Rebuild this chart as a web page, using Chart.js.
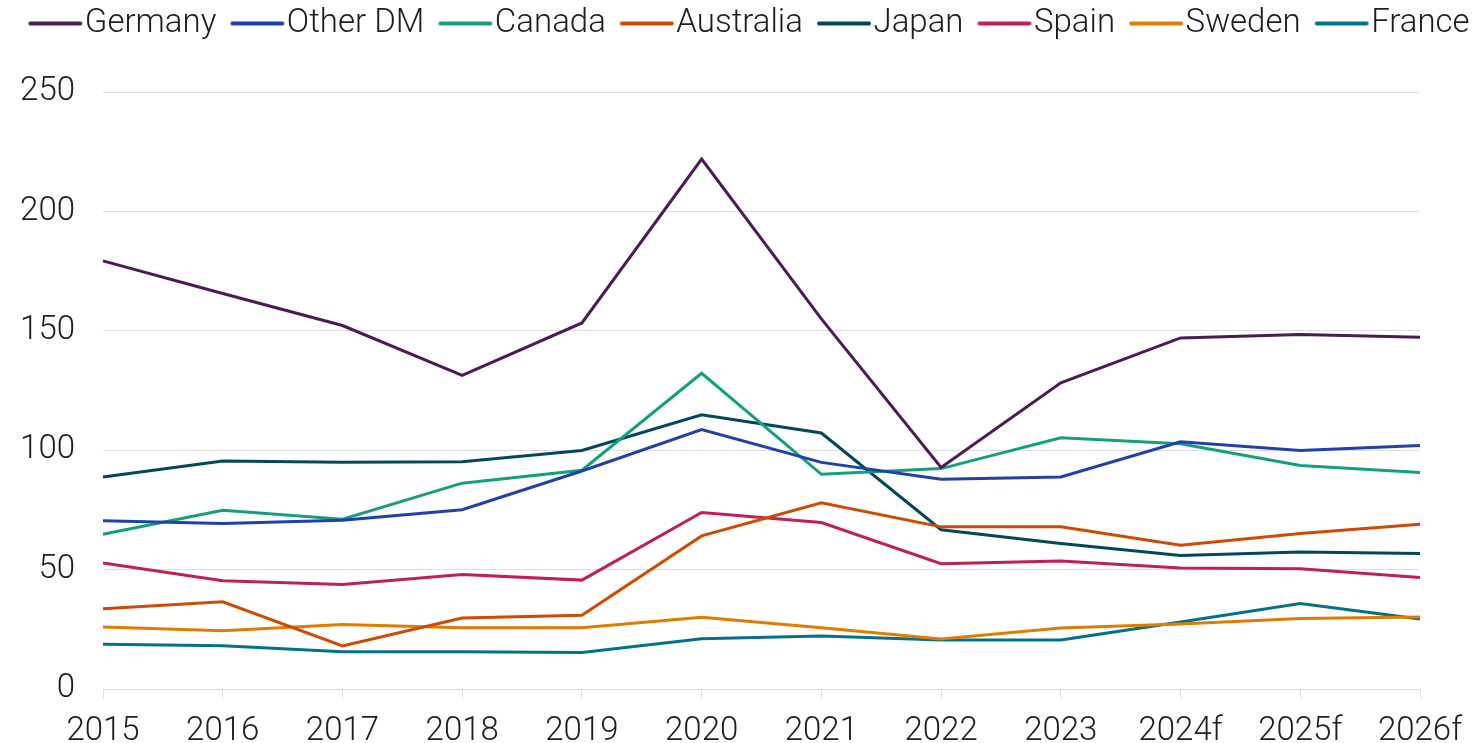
<!DOCTYPE html>
<html>
<head>
<meta charset="utf-8">
<script src="https://cdn.jsdelivr.net/npm/chart.js@4/dist/chart.umd.min.js"></script>
<style>
  html, body { margin: 0; padding: 0; background: #fff; }
  #wrap { width: 1476px; height: 743px; position: relative; }
</style>
</head>
<body>
<div id="wrap"><canvas id="chart"></canvas></div>
<script>
const years = ['2015', '2016', '2017', '2018', '2019', '2020', '2021', '2022', '2023', '2024f', '2025f', '2026f'];

const germany   = [179.3, 165.6, 152.2, 131.3, 153.3, 221.9, 155.0, 92.8, 128.2, 147.0, 148.4, 147.3];
const otherDM   = [70.5, 69.3, 70.7, 75.1, 91.3, 108.6, 94.9, 87.8, 88.8, 103.5, 99.9, 102.0];
const canada    = [64.8, 74.8, 71.1, 86.2, 91.6, 132.2, 89.9, 92.3, 105.2, 102.7, 93.6, 90.7];
const australia = [33.6, 36.5, 18.0, 29.7, 30.9, 64.1, 78.0, 67.9, 67.9, 60.2, 65.1, 69.0];
const japan     = [88.8, 95.5, 95.0, 95.2, 99.9, 114.8, 107.2, 66.7, 60.9, 55.9, 57.4, 56.7];
const spain     = [52.8, 45.3, 43.8, 47.9, 45.6, 73.9, 69.7, 52.5, 53.6, 50.7, 50.4, 46.7];
const sweden    = [26.0, 24.4, 27.0, 25.6, 25.6, 30.0, 25.6, 20.9, 25.5, 27.2, 29.5, 30.2];
const france    = [18.7, 18.1, 15.6, 15.6, 15.3, 21.0, 22.2, 20.5, 20.5, 28.1, 35.8, 29.3];

const seriesNames = ['Germany', 'Other DM', 'Canada', 'Australia', 'Japan', 'Spain', 'Sweden', 'France'];
const seriesData = [germany, otherDM, canada, australia, japan, spain, sweden, france];
const seriesColors = ['#4e1a55', '#2140ae', '#14a07c', '#d04a02', '#01495a', '#c0205a', '#e07d00', '#02728a'];

const yTicks = [0, 50, 100, 150, 200, 250];

const FONT = 'Roboto, "Liberation Sans", sans-serif';
const textColor = '#1e1e1e';
const gridColor = '#dedede';

// legend marker: line sits left of centre so the text gap stays small
function makeMarker(color) {
  const c = document.createElement('canvas');
  c.width = 108;
  c.height = 8;
  const g = c.getContext('2d');
  g.strokeStyle = color;
  g.lineWidth = 4;
  g.lineCap = 'round';
  g.beginPath();
  g.moveTo(36, 4);
  g.lineTo(86, 4);
  g.stroke();
  return c;
}
const markers = seriesColors.map(makeMarker);

// extra room under the legend, and nudge it a little to the right
const legendGap = {
  id: 'legendGap',
  beforeInit(chart) {
    const fit = chart.legend.fit;
    chart.legend.fit = function () {
      fit.bind(chart.legend)();
      this.height += 42;
    };
  },
  afterLayout(chart) {
    chart.legend.left += 11;
    chart.legend.right += 11;
  }
};

const ctx = document.getElementById('chart').getContext('2d');

new Chart(ctx, {
  type: 'line',
  data: {
    labels: years,
    datasets: seriesNames.map((name, i) => ({
      label: name,
      data: seriesData[i],
      borderColor: seriesColors[i],
      backgroundColor: seriesColors[i],
      borderWidth: 3,
      pointRadius: 0,
      pointHoverRadius: 0,
      tension: 0,
      fill: false,
    })),
  },
  options: {
    responsive: true,
    maintainAspectRatio: false,
    animation: false,
    layout: { padding: { left: 0, right: 0, top: -7, bottom: 0 } },
    plugins: {
      legend: {
        position: 'top',
        align: 'center',
        labels: {
          usePointStyle: true,
          pointStyleWidth: 40,
          padding: 14,
          color: textColor,
          font: { family: FONT, size: 33, weight: '300' },
          generateLabels(chart) {
            const items = Chart.defaults.plugins.legend.labels.generateLabels(chart);
            items.forEach((it, i) => { it.pointStyle = markers[i]; });
            return items;
          },
        },
      },
      tooltip: { enabled: false },
    },
    scales: {
      x: {
        grid: {
          display: true,
          drawOnChartArea: false,
          drawTicks: true,
          tickLength: 10,
          color: gridColor,
        },
        border: { display: true, color: gridColor },
        ticks: {
          color: textColor,
          padding: 13,
          maxRotation: 0,
          autoSkip: false,
          font: { family: FONT, size: 33, weight: '300' },
        },
        afterFit(scale) { scale.height = 54; },
      },
      y: {
        min: 0,
        max: 250,
        afterBuildTicks(scale) { scale.ticks = yTicks.map(v => ({ value: v })); },
        grid: { color: gridColor, drawTicks: false },
        border: { display: false },
        ticks: {
          color: textColor,
          padding: 28,
          font: { family: FONT, size: 33, weight: '300' },
        },
        afterFit(scale) { scale.width = 103; },
      },
      // empty right-hand axis, only reserves the margin right of the plot
      yRight: {
        position: 'right',
        grid: { display: false },
        border: { display: false },
        ticks: { display: false },
        afterFit(scale) { scale.width = 56; },
      },
    },
  },
  plugins: [legendGap],
});
</script>
</body>
</html>
